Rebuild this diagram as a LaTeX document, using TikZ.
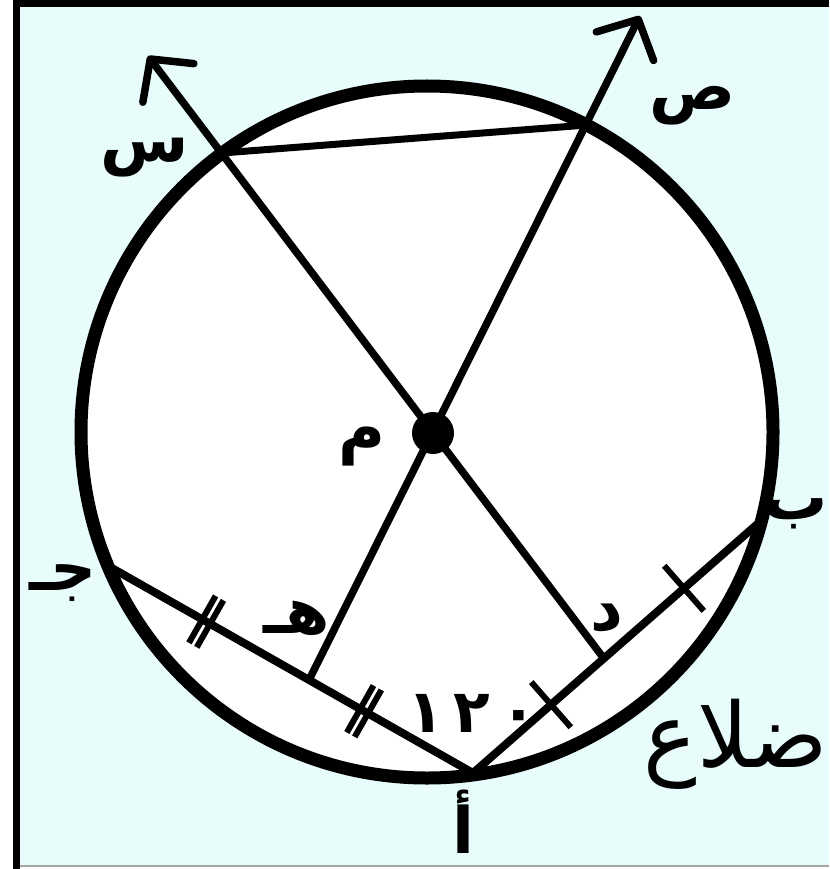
\documentclass[tikz,border=0pt]{standalone}
\usepackage{fontspec}
\newfontfamily\arabicfont[Script=Arabic]{DejaVu Sans}
\TeXXeTstate=1
\usetikzlibrary{arrows.meta,calc}
\definecolor{bgcyan}{RGB}{232,252,252}
\begin{document}
\begin{tikzpicture}[x=1pt,y=-1pt,
  lbl/.style={font=\arabicfont\bfseries\fontsize{64}{64}\selectfont, inner sep=0pt},
  numlbl/.style={font=\arabicfont\bfseries\fontsize{60}{60}\selectfont, inner sep=0pt},
  biglbl/.style={font=\arabicfont\fontsize{90}{90}\selectfont, inner sep=0pt},
  seg/.style={line width=7pt, line cap=round, line join=round},
  chord/.style={line width=8pt, line cap=round, line join=miter},
  tickmark/.style={line width=6pt},
  ray/.style={line width=7.5pt, -{Straight Barb[length=30pt,width=64pt,round]}},
]
\useasboundingbox (0,0) rectangle (829,869);
\clip (0,0) rectangle (829,869);
\fill[white] (0,0) rectangle (829,869);
\fill[bgcyan] (20,7) rectangle (829,866);
\draw[line width=2pt, gray!70] (20,866) -- (829,866);
\draw[line width=7.5pt] (16.5,869) -- (16.5,3.5) -- (829,3.5);

% points
\coordinate (O) at (427,432);
\coordinate (M) at (433,433);
\coordinate (S) at (222,153);
\coordinate (P) at (587,125);
\coordinate (A) at (473,773);
\coordinate (B) at (762,520);
\coordinate (J) at (110,567);
\coordinate (D) at (605,660);
\coordinate (H) at (309,680);
\coordinate (Stip) at (148,56);
\coordinate (Ptip) at (640,16);

% circle
\draw[line width=13pt, fill=white] (O) circle[radius=346];

% chords
\draw[seg] (S) -- (P);
\draw[chord] (J) -- (A) -- (B);

% rays through the centre
\draw[ray] (D) -- (Stip);
\draw[ray] (H) -- (Ptip);
\fill (M) circle[radius=21];

% tick marks
\path (J) -- (A) coordinate[pos=0.265] (t1) coordinate[pos=0.70] (t2);
\path (A) -- (B) coordinate[pos=0.27] (t3) coordinate[pos=0.73] (t4);
\foreach \t in {t1,t2}{
  \coordinate (\t a) at ($(\t)!4.5pt!(A)$);
  \coordinate (\t b) at ($(\t)!-4.5pt!(A)$);
  \draw[tickmark] ($(\t a)!27pt!90:(A)$) -- ($(\t a)!27pt!-90:(A)$);
  \draw[tickmark] ($(\t b)!27pt!90:(A)$) -- ($(\t b)!27pt!-90:(A)$);
}
\foreach \t in {t3,t4}{
  \draw[tickmark] ($(\t)!30pt!90:(B)$) -- ($(\t)!30pt!-90:(B)$);
}

% labels
\node[lbl] (lS) at (145,158) {\beginR س\endR};
\node[lbl] (lP) at (693,106) {\beginR ص\endR};
\node[lbl] (lM) at (362,447) {\beginR م\endR};
\node[lbl] (lH) at (297,618) {\beginR هـ\endR};
\node[lbl] (lD) at (607,618) {\beginR د\endR};
\node[lbl] (lJ) at (63,583) {\beginR جـ\endR};
\node[lbl, anchor=east] (lB) at (828,514) {\beginR ب\endR};
\node[lbl] (lA) at (463,822) {\beginR أ\endR};
\node[numlbl] (l120) at (472,713) {١\,٢\,٠};
\node[biglbl, anchor=east] (lw) at (828,744) {\beginR ضلاع\endR};
\end{tikzpicture}
\end{document}
